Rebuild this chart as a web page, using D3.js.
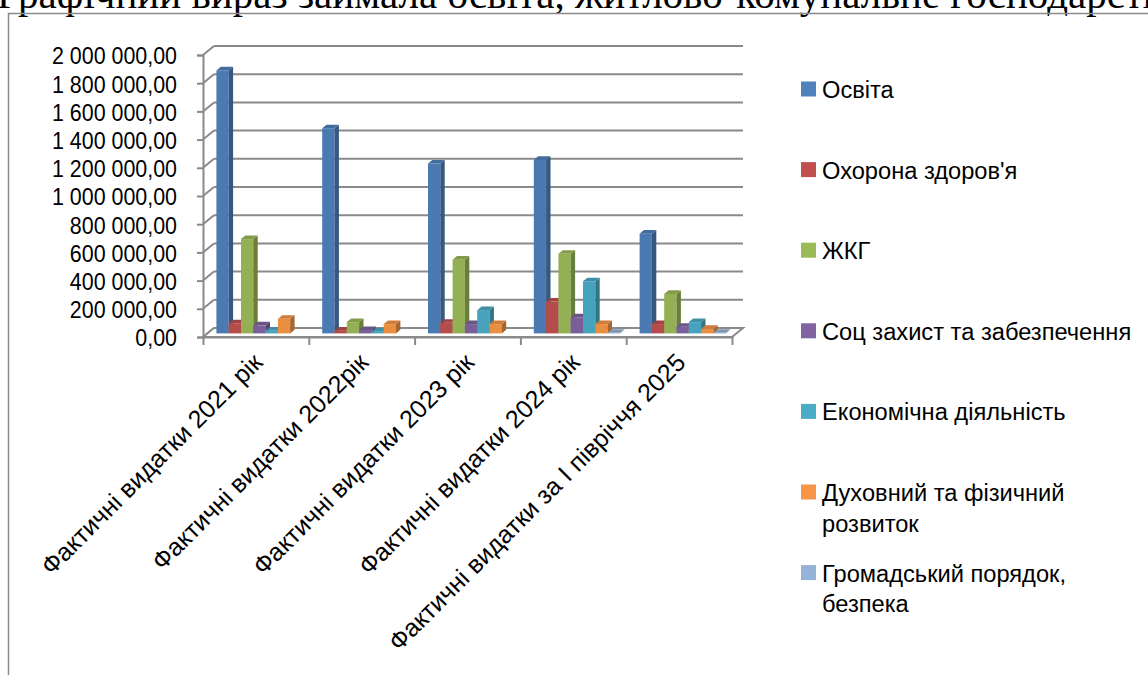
<!DOCTYPE html>
<html>
<head>
<meta charset="utf-8">
<script src="https://cdn.jsdelivr.net/npm/d3@7"></script>
<style>
  body { margin: 0; background: #fff; }
  svg { display: block; }
</style>
</head>
<body>
<svg id="chart"></svg>
<script>
// categories and series
const categories = ["Фактичні видатки 2021 рік", "Фактичні видатки 2022рік", "Фактичні видатки 2023 рік",
                    "Фактичні видатки 2024 рік", "Фактичні видатки за І півріччя 2025"];
const seriesNames = ["Освіта", "Охорона здоров'я", "ЖКГ", "Соц захист та забезпечення",
                     "Економічна діяльність", "Духовний та фізичний розвиток", "Громадський порядок, безпека"];
const legendLines = [["Освіта"], ["Охорона здоров'я"], ["ЖКГ"], ["Соц захист та забезпечення"],
                     ["Економічна діяльність"], ["Духовний та фізичний", "розвиток"], ["Громадський порядок,", "безпека"]];

const osvita   = [1865000, 1455000, 1205000, 1230000, 707000];
const ohorona  = [71000, 19000, 75000, 226000, 66000];
const zhkg     = [669000, 80000, 523000, 565000, 280000];
const sotsZah  = [57000, 24000, 66000, 113000, 47000];
const ekonom   = [19000, 12000, 165000, 370000, 80000];
const duhovny  = [104000, 66000, 66000, 66000, 33000];
const gromad   = [0, 0, 0, 4000, 4000];
const seriesValues = [osvita, ohorona, zhkg, sotsZah, ekonom, duhovny, gromad];

const yTicks = d3.range(0, 2000001, 200000);
const colors = ["#4F81BD", "#C0504D", "#9BBB59", "#8064A2", "#4BACC6", "#F79646", "#95B3D7"];

const W = 1148, H = 675;
const gridColor = "#8a8a8a";
const fontFam = "'Liberation Sans', Arial, sans-serif";
const textSize = 24.7;

// plot geometry (front plane)
const plotLeft = 203, plotRight = 732, plotBase = 337, plotTop = 55;
const DX = 11, DY = -9;       // depth of the walls
const barF = 0.4;             // bars sit at this fraction of the depth
const bdx = DX * barF, bdy = DY * barF;

const svg = d3.select("#chart").attr("width", W).attr("height", H);

// title line, cut at the top of the page
svg.append("text")
  .text("Графічний вираз займала освіта, житлово-комунальне господарство")
  .attr("x", -3).attr("y", 8)
  .style("font-family", "'Liberation Serif', 'Times New Roman', serif")
  .style("font-size", "41px")
  .attr("fill", "#000");

// chart frame
svg.append("rect")
  .attr("x", 8.5).attr("y", 13.5)
  .attr("width", 1300).attr("height", 800)
  .attr("fill", "none").attr("stroke", gridColor).attr("stroke-width", 1.5);

const yScale = d3.scaleLinear().domain([0, 2000000]).range([plotBase, plotTop]);
const x0 = d3.scaleBand().domain(categories).range([plotLeft, plotRight]);
const x1 = d3.scaleBand().domain(seriesNames).range([9, 9 + 7 * 12.3]);
const xEdge = d3.scaleLinear().domain([0, categories.length]).range([plotLeft, plotRight]);

const fmt = d3.formatLocale({decimal: ",", thousands: " ", grouping: [3], currency: ["", ""]}).format(",.2f");

// back wall gridlines and side wall diagonals
const grid = svg.append("g").attr("stroke", gridColor).attr("stroke-width", 2).attr("fill", "none");
grid.selectAll("line.back").data(yTicks).enter().append("line")
  .attr("x1", plotLeft + DX).attr("x2", plotRight + DX)
  .attr("y1", d => yScale(d) + DY).attr("y2", d => yScale(d) + DY);
grid.selectAll("line.side").data(yTicks).enter().append("line")
  .attr("x1", plotLeft).attr("x2", plotLeft + DX)
  .attr("y1", d => yScale(d)).attr("y2", d => yScale(d) + DY);

// floor
svg.append("path")
  .attr("d", "M" + plotLeft + "," + plotBase + "L" + plotRight + "," + plotBase + "L" + (plotRight + DX) + "," + (plotBase + DY) +
             "L" + (plotLeft + DX) + "," + (plotBase + DY) + "Z")
  .attr("fill", "#fff").attr("stroke", gridColor).attr("stroke-width", 2);

// y axis (front edge of side wall)
const yAxis = d3.axisLeft(yScale).tickValues(yTicks).tickFormat(fmt).tickSize(6).tickPadding(24);
const yG = svg.append("g").attr("transform", "translate(" + plotLeft + ",0)").call(yAxis);
yG.select(".domain").attr("stroke", gridColor).attr("stroke-width", 2);
yG.selectAll(".tick line").attr("stroke", gridColor).attr("stroke-width", 2);
yG.selectAll(".tick text")
  .attr("fill", "#000")
  .attr("dy", "0.36em")
  .style("font-family", fontFam).style("font-size", textSize + "px")
  .attr("transform", "scale(0.867,1)");

// x axis ticks at category edges
const xAxis = d3.axisBottom(xEdge).ticks(categories.length).tickFormat("").tickSize(8).tickSizeOuter(0);
const xG = svg.append("g").attr("transform", "translate(0," + plotBase + ")").call(xAxis);
xG.select(".domain").attr("stroke", gridColor).attr("stroke-width", 2);
xG.selectAll(".tick line").attr("stroke", gridColor).attr("stroke-width", 2);

// category labels
svg.append("g").selectAll("text").data(categories).enter().append("text")
  .text(d => d)
  .attr("transform", d => "translate(" + (x0(d) + x0.bandwidth() / 2 + 8) + "," + (plotBase + 27) + ") rotate(-45)")
  .attr("text-anchor", "end")
  .attr("fill", "#000")
  .style("font-family", fontFam).style("font-size", "25px");

// 3D bars
const bars = svg.append("g");
categories.forEach(function(cat, ci) {
  seriesNames.forEach(function(s, si) {
    const v = seriesValues[si][ci];
    if (v <= 0) return;
    const c = d3.color(colors[si]);
    const x = x0(cat) + x1(s) + bdx;
    const w = x1.bandwidth();
    const y0 = yScale(0) + bdy;
    const yt = yScale(v) + bdy;
    const sx = bdx, sy = bdy;
    const g = bars.append("g");
    g.append("rect")
      .attr("x", x).attr("y", yt).attr("width", w).attr("height", y0 - yt)
      .attr("fill", c.darker(0.15));
    g.append("path")
      .attr("d", "M" + (x + w) + "," + yt + "L" + (x + w + sx) + "," + (yt + sy) + "L" + (x + w + sx) + "," + (y0 + sy) +
                 "L" + (x + w) + "," + y0 + "Z")
      .attr("fill", c.darker(1.1));
    g.append("path")
      .attr("d", "M" + x + "," + yt + "L" + (x + w) + "," + yt + "L" + (x + w + sx) + "," + (yt + sy) +
                 "L" + (x + sx) + "," + (yt + sy) + "Z")
      .attr("fill", c.darker(0.5));
  });
});

// legend
const legend = svg.append("g");
const legItems = legend.selectAll("g").data(seriesNames).enter().append("g")
  .attr("transform", (d, i) => "translate(801," + (89 + i * 80.6) + ")");
legItems.append("rect")
  .attr("x", 0).attr("y", -7.5).attr("width", 15).attr("height", 15)
  .attr("fill", (d, i) => colors[i]);
legItems.append("text")
  .attr("transform", "translate(21,0) scale(0.958,1)")
  .attr("fill", "#000")
  .style("font-family", fontFam).style("font-size", textSize + "px")
  .selectAll("tspan").data((d, i) => legendLines[i]).enter().append("tspan")
  .attr("x", 0).attr("y", (d, j) => j * 31).attr("dy", "0.36em")
  .text(d => d);
</script>
</body>
</html>
